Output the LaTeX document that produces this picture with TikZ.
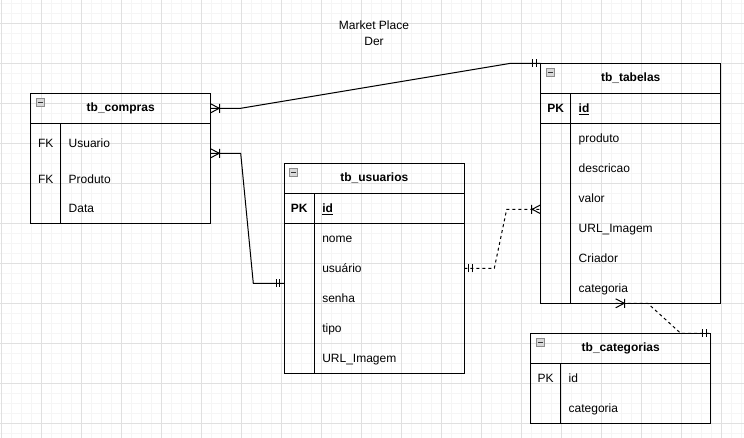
\documentclass[tikz,border=0pt]{standalone}
\usepackage{fontspec}
\setmainfont{Liberation Sans}
\usetikzlibrary{positioning}
\definecolor{gridminor}{HTML}{F5F5F5}
\definecolor{gridmajor}{HTML}{E0E0E0}
\newcommand{\erfont}{\fontsize{12}{14}\selectfont}
\newcommand{\rowstrut}{\rule[-3pt]{0pt}{14pt}}
\tikzset{
  hdr/.style={draw, line width=1pt, outer sep=0pt, minimum width=180pt, minimum height=30pt, inner sep=0pt, font=\erfont\bfseries},
  tblbody/.style={draw, line width=1pt, outer sep=0pt, minimum width=180pt, inner sep=0pt},
  keycell/.style={minimum width=30pt, minimum height=30pt, inner sep=0pt, outer sep=0pt, execute at begin node=\rowstrut},
  rowcell/.style={minimum width=150pt, minimum height=30pt, text width=134pt, inner xsep=8pt, inner ysep=0pt, outer sep=0pt, align=left, execute at begin node=\rowstrut},
  foldbox/.style={draw=gray!90, fill=gray!30, line width=0.6pt, minimum size=8pt, inner sep=0pt, anchor=north west,
    path picture={\draw[black!80, line width=0.8pt] ([xshift=1.5pt]path picture bounding box.west) -- ([xshift=-1.5pt]path picture bounding box.east);}},
  link/.style={draw=black, line width=1pt},
  dashlink/.style={link, dashed},
  onemark/.pic={\draw[link] (-4.5,-4) -- (-4.5,4) (-8,-4) -- (-8,4);},
  manymark/.pic={\draw[link] (0,-4.5) -- (-8.5,0) -- (0,4.5) (-9,-4.5) -- (-9,4.5);},
}

\begin{document}
\begin{tikzpicture}[x=1pt, y=-1pt, font=\erfont]
    \useasboundingbox (0,0) rectangle (744,438);
    \fill[white] (0,0) rectangle (744,438);
    % grid
    \foreach \x in {1.7,11.7,...,741.7} \draw[gridminor, line width=0.8pt] (\x,0) -- (\x,438);
    \foreach \y in {3.3,13.3,...,433.3} \draw[gridminor, line width=0.8pt] (0,\y) -- (744,\y);
    \foreach \x in {1.7,41.7,...,721.7} \draw[gridmajor, line width=0.8pt] (\x,0) -- (\x,438);
    \foreach \y in {23.3,63.3,...,423.3} \draw[gridmajor, line width=0.8pt] (0,\y) -- (744,\y);

    \node[align=center, font=\fontsize{12}{16}\selectfont] (title) at (374,33.7) {Market Place\\Der};

    % tb_compras
    \node[hdr] (cpHead) at (120.7,108.3) {tb\_compras};
    \node[tblbody, minimum height=100pt, below=0pt of cpHead] (cpBody) {};
    \node[foldbox] (cpFold) at ([shift={(5,5)}]cpHead.north west) {};
    \draw[line width=1pt] ([xshift=30pt]cpBody.north west) -- ([xshift=30pt]cpBody.south west);
    \node[rowcell] (cpUsuario) at ([xshift=105pt, yshift=-20pt]cpBody.north west) {Usuario};
    \node[rowcell, below=6pt of cpUsuario] (cpProduto) {Produto};
    \node[rowcell, anchor=south] (cpData) at ([xshift=105pt]cpBody.south west) {Data};
    \node[keycell, left=0pt of cpUsuario] (cpFk1) {FK};
    \node[keycell, left=0pt of cpProduto] (cpFk2) {FK};

    % tb_usuarios
    \node[hdr] (usHead) at (374.3,178.3) {tb\_usuarios};
    \node[tblbody, minimum height=180pt, below=0pt of usHead] (usBody) {};
    \node[foldbox] (usFold) at ([shift={(5,5)}]usHead.north west) {};
    \draw[line width=1pt] ([xshift=30pt]usBody.north west) -- ([xshift=30pt]usBody.south west);
    \node[rowcell, anchor=north west] (usId) at ([xshift=30pt]usBody.north west) {\textbf{\underline{id}}};
    \node[rowcell, below=0pt of usId] (usNome) {nome};
    \node[rowcell, below=0pt of usNome] (usUsuario) {usuário};
    \node[rowcell, below=0pt of usUsuario] (usSenha) {senha};
    \node[rowcell, below=0pt of usSenha] (usTipo) {tipo};
    \node[rowcell, below=0pt of usTipo] (usUrl) {URL\_Imagem};
    \node[keycell, left=0pt of usId, font=\erfont\bfseries] (usPk) {PK};
    \draw[line width=1pt] (usBody.west |- usId.south) -- (usBody.east |- usId.south);

    % tb_tabelas
    \node[hdr] (tbHead) at (630.7,78.3) {tb\_tabelas};
    \node[tblbody, minimum height=210pt, below=0pt of tbHead] (tbBody) {};
    \node[foldbox] (tbFold) at ([shift={(5,5)}]tbHead.north west) {};
    \draw[line width=1pt] ([xshift=30pt]tbBody.north west) -- ([xshift=30pt]tbBody.south west);
    \node[rowcell, anchor=north west] (tbId) at ([xshift=30pt]tbBody.north west) {\textbf{\underline{id}}};
    \node[rowcell, below=0pt of tbId] (tbProduto) {produto};
    \node[rowcell, below=0pt of tbProduto] (tbDescricao) {descricao};
    \node[rowcell, below=0pt of tbDescricao] (tbValor) {valor};
    \node[rowcell, below=0pt of tbValor] (tbUrl) {URL\_Imagem};
    \node[rowcell, below=0pt of tbUrl] (tbCriador) {Criador};
    \node[rowcell, below=0pt of tbCriador] (tbCategoria) {categoria};
    \node[keycell, left=0pt of tbId, font=\erfont\bfseries] (tbPk) {PK};
    \draw[line width=1pt] (tbBody.west |- tbId.south) -- (tbBody.east |- tbId.south);

    % tb_categorias
    \node[hdr] (ctHead) at (620.7,348.3) {tb\_categorias};
    \node[tblbody, minimum height=60pt, below=0pt of ctHead] (ctBody) {};
    \node[foldbox] (ctFold) at ([shift={(5,5)}]ctHead.north west) {};
    \draw[line width=1pt] ([xshift=30pt]ctBody.north west) -- ([xshift=30pt]ctBody.south west);
    \node[rowcell, anchor=north west] (ctId) at ([xshift=30pt]ctBody.north west) {id};
    \node[rowcell, below=0pt of ctId] (ctCategoria) {categoria};
    \node[keycell, left=0pt of ctId] (ctPk) {PK};

    % relations
    \coordinate (cpOut) at ([yshift=-30pt]cpBody.north east);
    \coordinate (usIn) at (usBody.west |- usSenha.north);
    \coordinate (tbIn) at ([yshift=4pt]tbBody.west |- tbUrl.north);
    \coordinate (tbOut) at ([xshift=-105pt]tbBody.south east);

    \draw[link] (cpHead.east) -- ++(30,0) -- ([xshift=-30pt]tbHead.north west) -- (tbHead.north west);
    \pic[rotate=180] at (cpHead.east) {manymark};
    \pic at (tbHead.north west) {onemark};

    \draw[link] (cpOut) -- ++(30,0) -- ([xshift=-31pt]usIn) -- (usIn);
    \pic[rotate=180] at (cpOut) {manymark};
    \pic at (usIn) {onemark};

    \draw[dashlink] (usUsuario.east) -- ++(30,0) -- ([xshift=-34pt]tbIn) -- (tbIn);
    \pic[rotate=180] at (usUsuario.east) {onemark};
    \pic at (tbIn) {manymark};

    \draw[dashlink] (tbOut) -- ++(32,0) -- ([xshift=-30pt]ctHead.north east) -- (ctHead.north east);
    \pic[rotate=180] at (tbOut) {manymark};
    \pic at (ctHead.north east) {onemark};
\end{tikzpicture}
\end{document}
